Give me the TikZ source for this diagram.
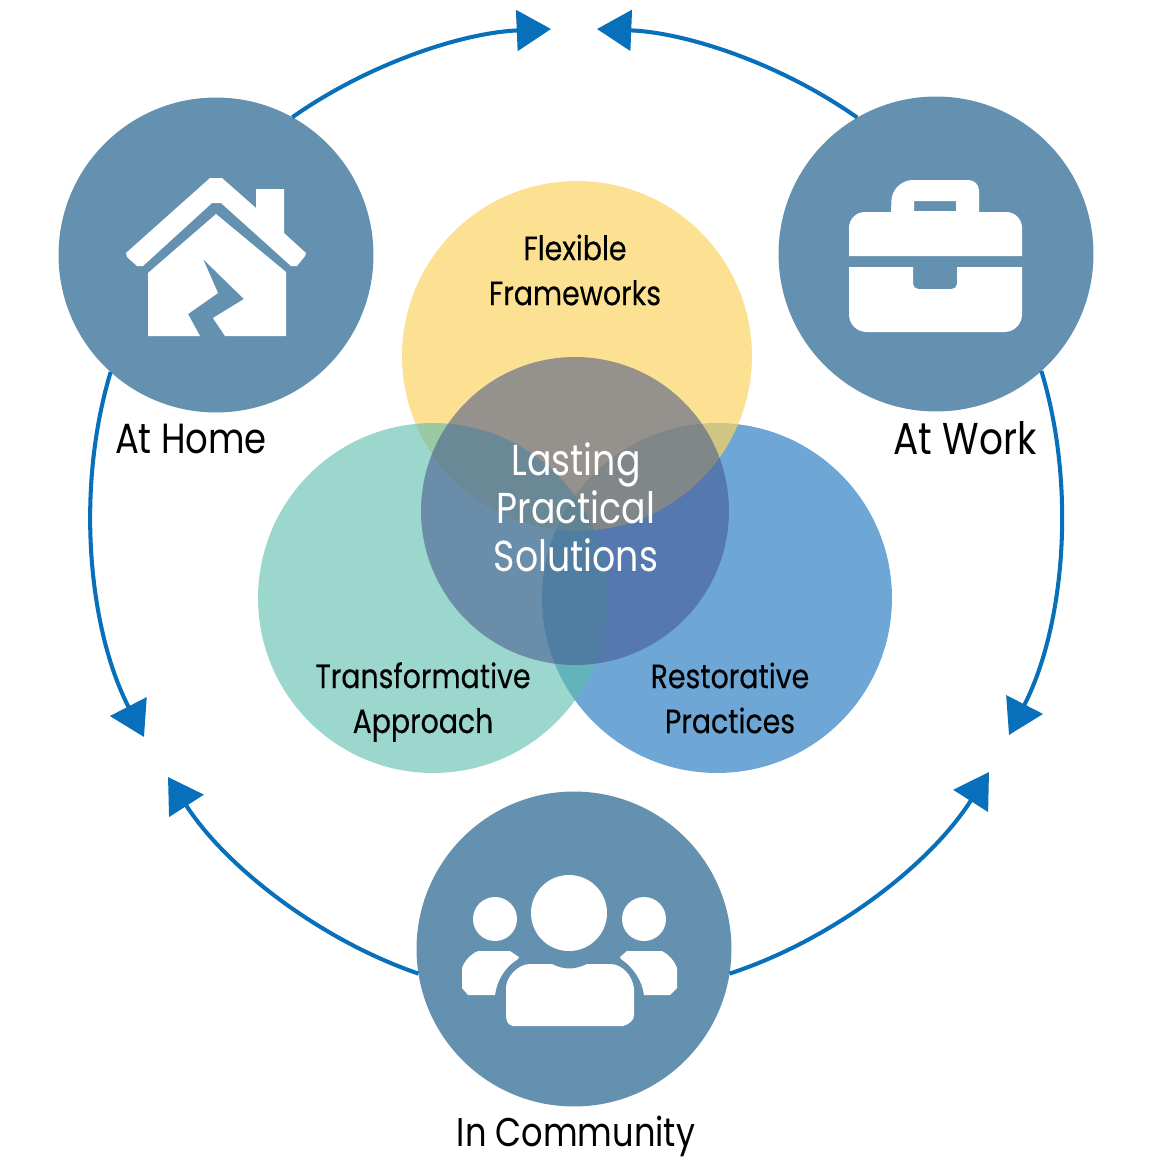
\documentclass[tikz,border=0pt]{standalone}
\usepackage{fontspec}
\setmainfont{Poppins}[FakeStretch=0.84]
\newfontfamily\petalfont{Poppins}[FakeStretch=0.84,FakeBold=0.25]
\usetikzlibrary{arrows.meta}
\definecolor{venue}{RGB}{101,145,176}
\definecolor{ring}{RGB}{8,112,186}
\definecolor{petalyellow}{RGB}{249,212,98}
\definecolor{petalteal}{RGB}{90,188,172}
\definecolor{petalblue}{RGB}{110,167,213}
\definecolor{petalcore}{RGB}{66,82,142}
\tikzset{
  venue/.style={circle,fill=venue,minimum size=6.3cm,inner sep=0pt,outer sep=0pt},
  petal/.style={circle,minimum size=7cm,inner sep=0pt,outer sep=0pt},
  ringline/.style={ring,line width=2.3pt,-{Triangle[length=19.5pt,width=23pt]},looseness=0.85},
  place/.style={font=\fontsize{24}{28}\selectfont},
  petaltext/.style={align=center,font=\petalfont\fontsize{19.2}{25.6}\selectfont},
}

\begin{document}
\begin{tikzpicture}[x=0.02cm,y=-0.02cm]
    \useasboundingbox (0,0) rectangle (1152,1170);
    % the venn petals, core on top
    \node[petal,fill=petalblue] (restorative) at (717,598) {};
    \node[petal,fill=petalyellow,fill opacity=0.7] (flexible) at (577,356) {};
    \node[petal,fill=petalteal,fill opacity=0.6] (transformative) at (433,598) {};
    \node[petal,fill=petalcore,fill opacity=0.55,minimum size=6.16cm] (core) at (575,511) {};
    \node[petaltext] (flexibletext) at (575,270) {Flexible\\Frameworks};
    \node[petaltext] (transformativetext) at (423,702) {Transformative\\Approach};
    \node[petaltext] (restorativetext) at (730,698) {Restorative\\Practices};
    \node[align=center,white,font=\fontsize{24.6}{27.3}\selectfont] (coretext) at (576,507)
      {Lasting\\Practical\\Solutions};
    % the three places
    \node[venue] (home) at (216,255) {};
    \node[venue] (work) at (936,254) {};
    \node[venue] (community) at (574,949) {};
    \node[place] (hometext) at (191,439) {At Home};
    \node[place,font=\fontsize{25.4}{28}\selectfont] (worktext) at (965,438) {At Work};
    \node[place,font=\fontsize{22.8}{28}\selectfont] (communitytext) at (576,1136) {In Community};
    % free ends of the ring
    \coordinate (tophome) at (551,29);
    \coordinate (topwork) at (597,29);
    \coordinate (lefthome) at (144,737);
    \coordinate (leftcommunity) at (168,777);
    \coordinate (rightwork) at (1009,735);
    \coordinate (rightcommunity) at (989,772);
    \draw[ringline] (home.61) to[bend left=16.4] (tophome);
    \draw[ringline] (work.120) to[bend right=16.5] (topwork);
    \draw[ringline] (home.228) to[bend right=22] (lefthome);
    \draw[ringline] (work.312) to[bend left=22] (rightwork);
    \draw[ringline] (community.189) to[bend left=19.2] (leftcommunity);
    \draw[ringline] (community.-9.4) to[bend right=19.7] (rightcommunity);
    % house
    \fill[white] (126,253) -- (210,178) -- (222,178) -- (256,208) -- (256,189) -- (284,189)
      -- (284,233) -- (306,253) -- (305,256) -- (297,266) -- (291,266) -- (221,203)
      -- (212,203) -- (143,266) -- (137,266) -- (127,257) -- cycle;
    \fill[white] (216,214) -- (286,272) -- (286,336) -- (225,336) -- (213,318) -- (244,299)
      -- (203,259) -- (218,293) -- (188,314) -- (200,336) -- (148,336) -- (148,273) -- cycle;
    % briefcase
    \fill[white,rounded corners=9] (849,256) -- (849,212) -- (1022,212)
      [sharp corners] -- (1022,256) -- cycle;
    \fill[white,even odd rule] (891,214) [rounded corners=12] -- (892,180) [rounded corners=6] -- (979,180)
      [sharp corners] -- (979,214) -- cycle
      (914,201) rectangle (956,211);
    \fill[white] (849,267) -- (913,267) [rounded corners=3] -- (913,289) -- (957,289)
      [sharp corners] -- (957,267) -- (1022,267) [rounded corners=10] -- (1022,332)
      -- (849,332) [sharp corners] -- cycle;
    % people
    \fill[white] (569,913) circle[radius=38] (495,919) circle[radius=22] (644,919) circle[radius=22];
    \fill[white] (513,1026) -- (623,1026) .. controls (630,1024) and (634,1020) .. (634,1015)
      -- (634,988) .. controls (632,975) and (622,964) .. (610,964) -- (587,964)
      .. controls (575,970) and (563,970) .. (552,964) -- (530,964)
      .. controls (518,964) and (506,977) .. (506,988) -- (506,1015)
      .. controls (506,1021) and (508,1025) .. (513,1026) -- cycle;
    \fill[white] (478,951) -- (510,951) -- (519,957) -- (518,959)
      .. controls (505,967) and (497,980) .. (495,995) -- (468,995) -- (462,988) -- (462,968)
      .. controls (465,960) and (471,954) .. (478,951) -- cycle;
    \fill[white] (662,951) -- (627,951) -- (620,957) -- (621,959)
      .. controls (633,967) and (642,980) .. (644,995) -- (670,995) -- (677,988) -- (677,968)
      .. controls (674,960) and (668,954) .. (662,951) -- cycle;
  \end{tikzpicture}
\end{document}
